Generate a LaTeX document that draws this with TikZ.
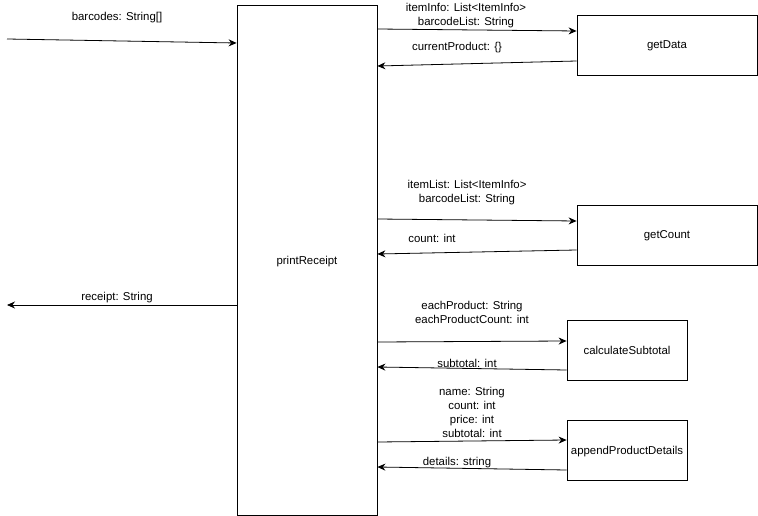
\documentclass[tikz,border=0pt]{standalone}
\usepackage{fontspec}
\setmainfont{Liberation Sans}
\usetikzlibrary{arrows.meta}
\tikzset{
  fn/.style={draw, thick, fill=white, inner sep=1pt, text depth=0pt, font=\fontsize{11.4}{14}\selectfont},
  flow/.style={thick, -{Stealth[length=8pt,width=7pt]}},
  lbl/.style={align=center, inner sep=0pt, yshift=-2pt, font=\fontsize{11.4}{14}\selectfont}
}
\begin{document}
\begin{tikzpicture}[x=1pt,y=-1pt]
\useasboundingbox (0,0) rectangle (758,516);
% boxes
\node[fn, minimum width=140, minimum height=510] (pr) at (307,260) {printReceipt};
\node[fn, minimum width=180, minimum height=60] (gd) at (667,45) {getData};
\node[fn, minimum width=180, minimum height=60] (gc) at (667,235) {getCount};
\node[fn, minimum width=120, minimum height=60] (cs) at (627,350) {calculateSubtotal};
\node[fn, minimum width=120, minimum height=60] (ap) at (627,450) {appendProductDetails};
\coordinate (in) at (7,39);
\coordinate (out) at (7,305);
% input and output
\draw[flow] (in) -- (pr.west |- 0,43);
\node[lbl] (l-in) at (117,16) {barcodes: String[]};
\draw[flow] (pr.west |- 0,305) -- (out);
\node[lbl] (l-out) at (117,296) {receipt: String};
% getData
\draw[flow] (pr.east |- 0,29) -- (gd.west |- 0,31);
\node[lbl] (l-gd1) at (466,14) {itemInfo: List<ItemInfo>\\barcodeList: String};
\draw[flow] (gd.west |- 0,61) -- (pr.east |- 0,66);
\node[lbl] (l-gd2) at (457,46) {currentProduct: \{\}};
% getCount
\draw[flow] (pr.east |- 0,219) -- (gc.west |- 0,221);
\node[lbl] (l-gc1) at (467,191) {itemList: List<ItemInfo>\\barcodeList: String};
\draw[flow] (gc.west |- 0,250) -- (pr.east |- 0,254);
\node[lbl] (l-gc2) at (432,236) {count: int};
% calculateSubtotal
\draw[flow] (pr.east |- 0,342) -- (cs.west |- 0,341);
\node[lbl] (l-cs1) at (472,310) {eachProduct: String\\eachProductCount: int};
\draw[flow] (cs.west |- 0,370) -- (pr.east |- 0,367);
\node[lbl] (l-cs2) at (467,361) {subtotal: int};
% appendProductDetails
\draw[flow] (pr.east |- 0,442) -- (ap.west |- 0,440);
\node[lbl] (l-ap1) at (472,410) {name: String\\count: int\\price: int\\subtotal: int};
\draw[flow] (ap.west |- 0,470) -- (pr.east |- 0,467);
\node[lbl] (l-ap2) at (457,461) {details: string};
\end{tikzpicture}
\end{document}
